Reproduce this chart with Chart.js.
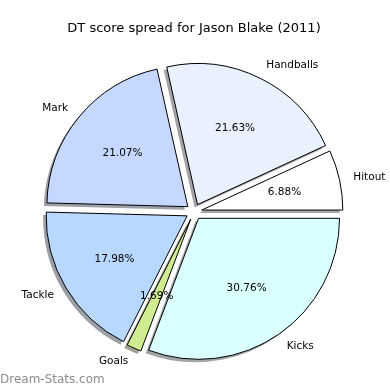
<!DOCTYPE html>
<html>
<head>
<meta charset="utf-8">
<script src="https://cdn.jsdelivr.net/npm/chart.js@4.4.1/dist/chart.umd.min.js"></script>
<style>
  html, body { margin: 0; padding: 0; background: #fff; }
  #wrap { position: relative; width: 390px; height: 390px; }
</style>
</head>
<body>
<div id="wrap"><canvas id="pie-chart"></canvas></div>
<script>
// matplotlib order (counter-clockwise from 3 o'clock)
const categories = ['Hitout', 'Handballs', 'Mark', 'Tackle', 'Goals', 'Kicks'];
const shares = [6.88, 21.63, 21.07, 17.98, 1.69, 30.76];
const sliceColors = ['#ffffff', '#e9f1ff', '#c6d8ff', '#b8d8ff', '#d0ec90', '#d9ffff'];

const EXPLODE = 8;       // px each wedge is pushed out
const SHADOW_SHIFT = 3;  // px, shadow goes left and down
const FONT = "'DejaVu Sans', sans-serif";

// Chart.js draws clockwise, so feed it the reversed lists
const labelsCw = categories.slice().reverse();
const valuesCw = shares.slice().reverse();
const colorsCw = sliceColors.slice().reverse();

function shadowOf(hex) {
  const n = parseInt(hex.slice(1), 16);
  const r = Math.round(((n >> 16) & 255) * 0.3);
  const g = Math.round(((n >> 8) & 255) * 0.3);
  const b = Math.round((n & 255) * 0.3);
  return `rgba(${r}, ${g}, ${b}, 0.5)`;
}

const explodedPie = {
  id: 'explodedPie',
  beforeDatasetDraw(chart, args) {
    const ctx = chart.ctx;
    const arcs = args.meta.data;
    // shadows first, all under the wedges
    arcs.forEach((arc, i) => {
      const mid = (arc.startAngle + arc.endAngle) / 2;
      ctx.save();
      ctx.translate(Math.cos(mid) * EXPLODE - SHADOW_SHIFT, Math.sin(mid) * EXPLODE + SHADOW_SHIFT);
      ctx.beginPath();
      ctx.moveTo(arc.x, arc.y);
      ctx.arc(arc.x, arc.y, arc.outerRadius, arc.startAngle, arc.endAngle);
      ctx.closePath();
      ctx.fillStyle = shadowOf(colorsCw[i]);
      ctx.fill();
      ctx.restore();
    });
    arcs.forEach(arc => {
      const mid = (arc.startAngle + arc.endAngle) / 2;
      ctx.save();
      ctx.translate(Math.cos(mid) * EXPLODE, Math.sin(mid) * EXPLODE);
      arc.draw(ctx);
      ctx.restore();
    });
    return false;
  },
  afterDatasetsDraw(chart) {
    const ctx = chart.ctx;
    const meta = chart.getDatasetMeta(0);
    const total = valuesCw.reduce((a, b) => a + b, 0);
    ctx.save();
    ctx.fillStyle = '#000';
    ctx.font = `10.5px ${FONT}`;
    meta.data.forEach((arc, i) => {
      const mid = (arc.startAngle + arc.endAngle) / 2;
      const c = Math.cos(mid), s = Math.sin(mid);
      const r = arc.outerRadius;
      // outer label
      ctx.textBaseline = 'middle';
      ctx.textAlign = c > 0 ? 'left' : 'right';
      ctx.fillText(labelsCw[i], arc.x + c * (EXPLODE + 1.1 * r), arc.y + s * (EXPLODE + 1.1 * r));
      // percentage
      ctx.textAlign = 'center';
      const pct = (valuesCw[i] / total * 100).toFixed(2) + '%';
      ctx.fillText(pct, arc.x + c * (EXPLODE + 0.6 * r), arc.y + s * (EXPLODE + 0.6 * r));
    });
    ctx.restore();
  },
  afterDraw(chart) {
    const ctx = chart.ctx;
    ctx.save();
    ctx.fillStyle = '#8c8c8c';
    ctx.font = `12px ${FONT}`;
    ctx.textAlign = 'left';
    ctx.textBaseline = 'middle';
    ctx.fillText('Dream-Stats.com', 0, chart.height - 10);
    ctx.restore();
  }
};

new Chart(document.getElementById('pie-chart').getContext('2d'), {
  type: 'pie',
  data: {
    labels: labelsCw,
    datasets: [{
      label: 'DT score spread',
      data: valuesCw,
      backgroundColor: colorsCw,
      borderColor: '#000',
      borderWidth: 1,
      borderJoinStyle: 'miter'
    }]
  },
  options: {
    responsive: true,
    maintainAspectRatio: false,
    animation: false,
    events: [],
    rotation: 90,
    radius: 141,
    layout: { padding: { top: 20.5, bottom: 2.6, left: 0, right: 2 } },
    plugins: {
      legend: { display: false },
      tooltip: { enabled: false },
      title: {
        display: true,
        text: 'DT score spread for Jason Blake (2011)',
        color: '#000',
        font: { family: FONT, size: 13, weight: 'normal', lineHeight: 1.2 },
        padding: { top: 0, bottom: 0 }
      }
    }
  },
  plugins: [explodedPie]
});
</script>
</body>
</html>
